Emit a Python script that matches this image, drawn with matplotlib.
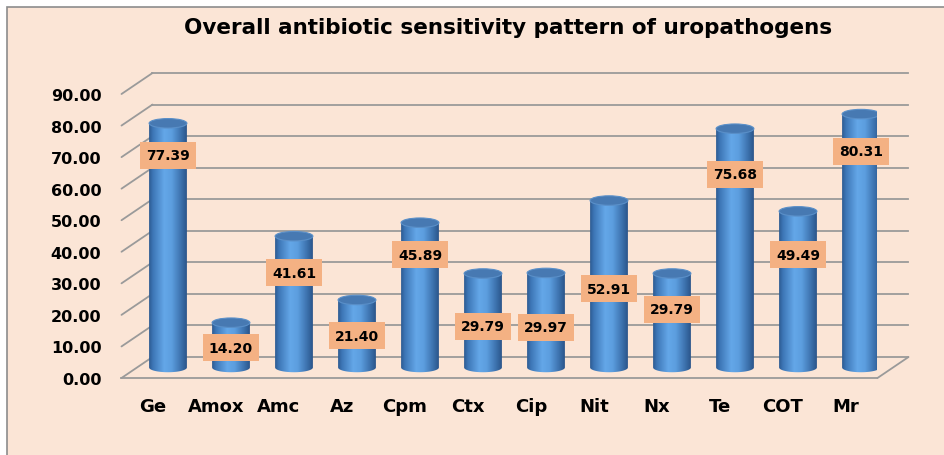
import numpy as np
import matplotlib
matplotlib.use("Agg")
import matplotlib.pyplot as plt
import matplotlib.transforms as mtransforms
from matplotlib.patches import Rectangle, Ellipse, PathPatch, ConnectionPatch
from matplotlib.path import Path
from matplotlib.colors import LinearSegmentedColormap

# ---- data ----
categories = ["Ge", "Amox", "Amc", "Az", "Cpm", "Ctx", "Cip", "Nit", "Nx", "Te", "COT", "Mr"]
values = [77.39, 14.20, 41.61, 21.40, 45.89, 29.79, 29.97, 52.91, 29.79, 75.68, 49.49, 80.31]
# heights (in axis units) where the value boxes sit (manually placed in original)
label_levels = [67.2, 6.3, 30.1, 10.1, 35.8, 13.0, 12.7, 25.0, 18.4, 61.2, 35.8, 68.5]
yticks = list(range(0, 91, 10))
title = "Overall antibiotic sensitivity pattern of uropathogens"

W, H, DPI = 945, 456, 100
fig = plt.figure(figsize=(W / DPI, H / DPI), dpi=DPI)
fig.patch.set_facecolor("white")
bg = "#FBE5D6"
fig.patches.append(Rectangle((7 / W, -0.05), 1.2, 1 - 8 / H + 0.05, transform=fig.transFigure,
                             facecolor=bg, edgecolor="#8C8C8C", linewidth=1.2, zorder=-10))

ax = fig.add_axes([121.5 / W, 77 / H, 756 / W, 284 / H])
ax.set_facecolor("none")
for s in ax.spines.values():
    s.set_visible(False)
ax.set_xlim(-0.5, len(categories) - 0.5)
ax.set_ylim(0, 90)

back = ax.transData + mtransforms.ScaledTranslation(31 / DPI, 21 / DPI, fig.dpi_scale_trans)
mid = ax.transData + mtransforms.ScaledTranslation(15 / DPI, 10.5 / DPI, fig.dpi_scale_trans)

grid_c = "#9A9A9A"
x0, x1 = -0.5, len(categories) - 0.5
for v in yticks:
    ax.plot([x0, x1], [v, v], color=grid_c, lw=1.3, transform=back, zorder=1, clip_on=False)
    cp = ConnectionPatch((x0, v), (x0, v), coordsA=ax.transData, coordsB=back,
                         color=grid_c, lw=1.3, zorder=1)
    ax.add_artist(cp)
# floor
ax.plot([x0, x1], [0, 0], color=grid_c, lw=1.3, zorder=1, clip_on=False)
cp = ConnectionPatch((x1, 0), (x1, 0), coordsA=ax.transData, coordsB=back,
                     color=grid_c, lw=1.3, zorder=1)
ax.add_artist(cp)

# cylinders
cmap = LinearSegmentedColormap.from_list(
    "cyl", [(0, "#2D5B92"), (0.1, "#3D76B6"), (0.4, "#64A7E8"), (0.6, "#5C9EDF"),
            (0.85, "#3C71AD"), (1, "#2A558A")])
grad = np.linspace(0, 1, 128).reshape(1, -1)
bw = 0.6
eh = 3.0  # ellipse full height in value units
for i, v in enumerate(values):
    xl, xr = i - bw / 2, i + bw / 2
    t = np.linspace(np.pi, 2 * np.pi, 40)
    bottom = np.column_stack([i + bw / 2 * np.cos(t), 0 + eh / 2 * np.sin(t)])
    verts = [(xl, v)] + bottom.tolist() + [(xr, v), (xl, v)]
    path = Path(verts, [Path.MOVETO] + [Path.LINETO] * (len(verts) - 2) + [Path.CLOSEPOLY])
    patch = PathPatch(path, facecolor="none", edgecolor="none", transform=mid)
    ax.add_patch(patch)
    im = ax.imshow(grad, cmap=cmap, aspect="auto", extent=[xl, xr, -eh, v],
                   transform=mid, zorder=3, interpolation="bilinear")
    im.set_clip_path(patch)
    top = Ellipse((i, v), bw, eh, transform=mid, facecolor="#4779B2",
                  edgecolor="#5A8FC8", lw=0.8, zorder=4)
    ax.add_patch(top)
    ax.text(i, label_levels[i], f"{v:.2f}", transform=mid, ha="center", va="center",
            fontsize=10, fontweight="bold", color="black", zorder=6,
            bbox=dict(boxstyle="square,pad=0.45", facecolor="#F4B183", edgecolor="none"))

ax.set_xlim(-0.5, len(categories) - 0.5)
ax.set_ylim(0, 90)
ax.set_xticks(range(len(categories)))
ax.set_xticklabels(categories, fontsize=13, fontweight="bold")
ax.set_yticks(yticks)
ax.set_yticklabels([f"{v:.2f}" for v in yticks], fontsize=11.5, fontweight="bold")
ax.tick_params(axis="both", length=0)
ax.tick_params(axis="y", pad=14.5)
ax.tick_params(axis="x", pad=14)

fig.text(508 / W, 1 - 28 / H, title, ha="center", va="center", fontsize=15.5, fontweight="bold")

fig.savefig("out.png", dpi=DPI, facecolor="white")
